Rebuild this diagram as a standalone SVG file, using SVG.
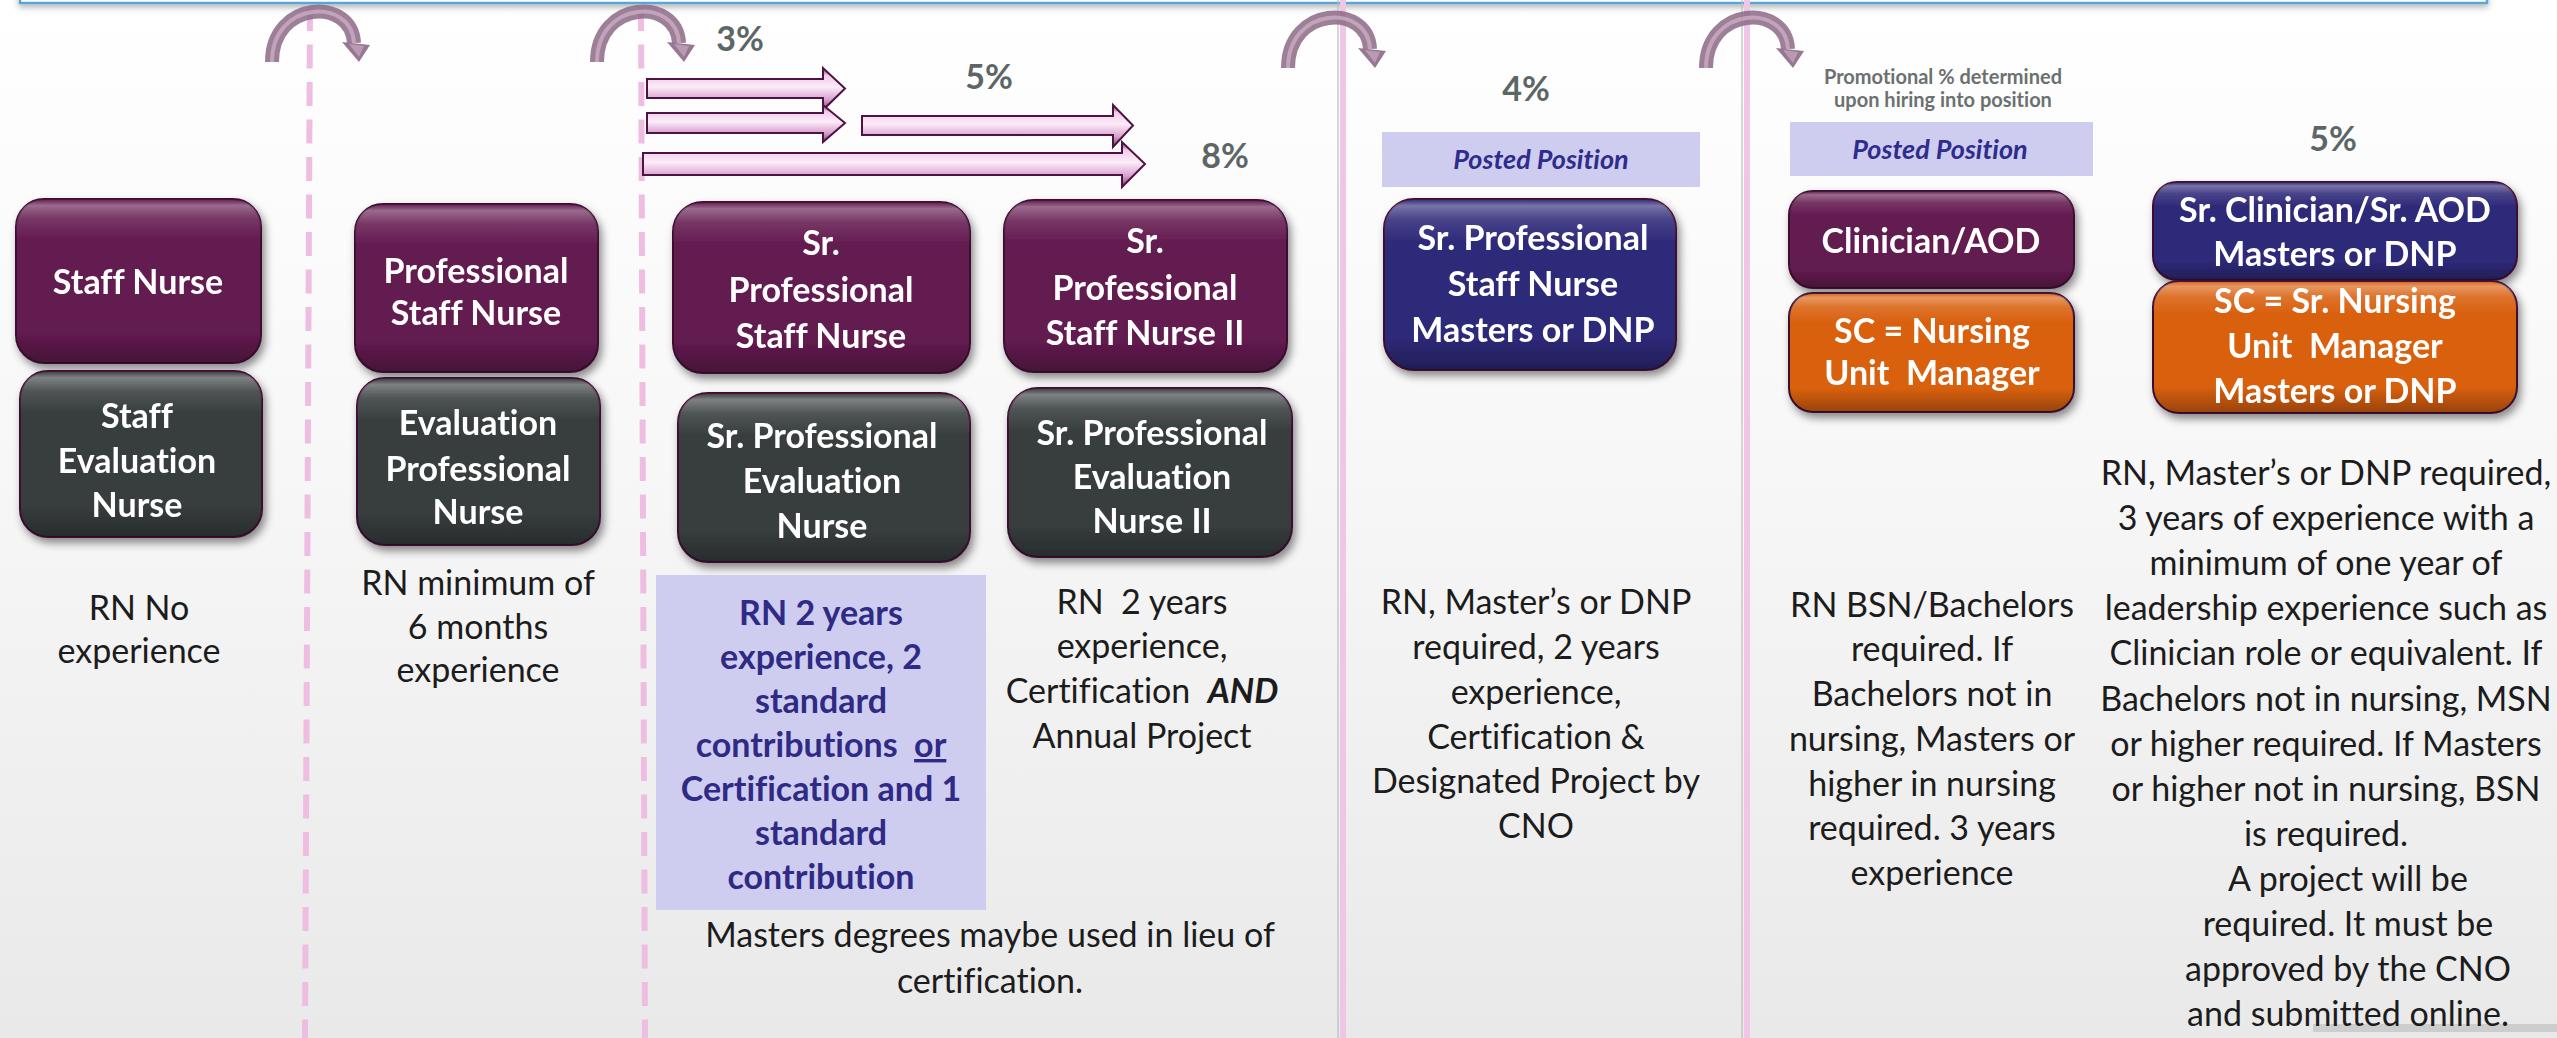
<svg xmlns="http://www.w3.org/2000/svg" width="2557" height="1038" viewBox="0 0 2557 1038">
<defs>
  <linearGradient id="bg" x1="0" y1="0" x2="0" y2="1">
    <stop offset="0" stop-color="#ffffff"/>
    <stop offset="0.45" stop-color="#f7f7f7"/>
    <stop offset="1" stop-color="#e9e9e9"/>
  </linearGradient>
  <linearGradient id="gloss" x1="0" y1="0" x2="0" y2="1">
    <stop offset="0" stop-color="#ffffff" stop-opacity="0.0"/>
    <stop offset="0.04" stop-color="#ffffff" stop-opacity="0.35"/>
    <stop offset="0.12" stop-color="#ffffff" stop-opacity="0.12"/>
    <stop offset="0.25" stop-color="#ffffff" stop-opacity="0"/>
    <stop offset="0.8" stop-color="#000000" stop-opacity="0"/>
    <stop offset="1" stop-color="#000000" stop-opacity="0.3"/>
  </linearGradient>
  <linearGradient id="arr" x1="0" y1="0" x2="0" y2="1">
    <stop offset="0" stop-color="#7c3a70"/>
    <stop offset="0.18" stop-color="#f1cbe9"/>
    <stop offset="0.45" stop-color="#fcecf9"/>
    <stop offset="0.75" stop-color="#d9a2cf"/>
    <stop offset="1" stop-color="#7e3d73"/>
  </linearGradient>
  <filter id="ds" x="-10%" y="-10%" width="125%" height="135%">
    <feDropShadow dx="3" dy="5" stdDeviation="4" flood-color="#000" flood-opacity="0.45"/>
  </filter>
  <filter id="ds2" x="-5%" y="-50%" width="110%" height="300%">
    <feDropShadow dx="0" dy="3" stdDeviation="3" flood-color="#000" flood-opacity="0.3"/>
  </filter>
  <g id="uarc">
    <path d="M 0 57 C 0 -5, 80 -8, 82 38" fill="none" stroke="#8d6886" stroke-width="14" stroke-opacity="0.85"/>
    <path d="M 0 57 C 0 -5, 80 -8, 82 38" fill="none" stroke="#c9adc3" stroke-width="4" stroke-opacity="0.8"/>
    <polygon points="70,37 98,40 87,57" fill="#8d6886" fill-opacity="0.9"/>
    <polygon points="77,39 92,41 87,52" fill="#c2a3bc" fill-opacity="0.8"/>
  </g>
  <style>
    text { font-variant-ligatures: none; }
    .bx { stroke: #3f0d33; stroke-width: 2; }
    .pu { fill: #641b50; }
    .dk { fill: #383e3e; }
    .nv { fill: #2f2a7a; }
    .or { fill: #d9600f; }
    .gl { fill: url(#gloss); }
    .bt { font-family: Lato, "Open Sans", "Liberation Sans", sans-serif; font-weight: bold; font-size: 34px; fill: #ffffff; text-anchor: middle; }
    .tx { font-family: Lato, "Open Sans", "Liberation Sans", sans-serif; font-size: 34px; fill: #1c1c1c; text-anchor: middle; white-space: pre; }
    .lv { font-family: Lato, "Open Sans", "Liberation Sans", sans-serif; font-weight: bold; font-size: 34px; fill: #2e2a86; text-anchor: middle; white-space: pre; }
    .pc { font-family: Lato, "Open Sans", "Liberation Sans", sans-serif; font-weight: bold; font-size: 34px; fill: #5c6666; text-anchor: middle; }
    .pm { font-family: Lato, "Open Sans", "Liberation Sans", sans-serif; font-weight: bold; font-size: 20px; fill: #6b7070; text-anchor: middle; }
    .pp { font-family: Lato, "Open Sans", "Liberation Sans", sans-serif; font-weight: bold; font-style: italic; font-size: 27px; fill: #2e2c8c; text-anchor: middle; }
    .dash { stroke: #efbde2; stroke-width: 6; stroke-dasharray: 24 13.5; fill: none; }
    .sol { stroke: #f0c6e6; stroke-width: 6; fill: none; }
    .solsh { stroke: #bcbcbc; stroke-width: 2; fill: none; opacity: 0.6; }
    .ar { fill: url(#arr); stroke: #4d1443; stroke-width: 2; stroke-linejoin: miter; }
  </style>
</defs>

<rect x="0" y="0" width="2557" height="1038" fill="url(#bg)"/>

<!-- top banner edge -->
<rect x="20" y="-30" width="2467" height="33" fill="#ffffff" stroke="#5aa5d8" stroke-width="2.5" filter="url(#ds2)"/>

<!-- bottom-right shadow -->
<rect x="2313" y="1024" width="244" height="8" fill="#9a9a9a" opacity="0.35"/>

<!-- dividers -->
<g id="dividers">
  <line class="dash" x1="310" y1="7" x2="305" y2="1038"/>
  <line class="dash" x1="641" y1="7" x2="645" y2="1038"/>
  <line class="solsh" x1="1338" y1="0" x2="1338" y2="1038"/>
  <line class="sol" x1="1343" y1="0" x2="1343" y2="1038"/>
  <line class="solsh" x1="1742" y1="0" x2="1742" y2="1038"/>
  <line class="sol" x1="1747" y1="0" x2="1747" y2="1038"/>
</g>

<!-- connectors -->
<g id="connectors">
  <use href="#uarc" transform="translate(272,5)"/>
  <use href="#uarc" transform="translate(597,5)"/>
  <use href="#uarc" transform="translate(1288,11)"/>
  <use href="#uarc" transform="translate(1706,11)"/>
  <path class="ar" d="M 647 79 L 823 79 L 823 68 L 845 88.5 L 823 110 L 823 98 L 647 98 Z"/>
  <path class="ar" d="M 647 113 L 823 113 L 823 105 L 845 123 L 823 142 L 823 133 L 647 133 Z"/>
  <path class="ar" d="M 862 116 L 1113 116 L 1113 105 L 1133 125.5 L 1113 147 L 1113 135 L 862 135 Z"/>
  <path class="ar" d="M 643 153 L 1122 153 L 1122 142 L 1145 164 L 1122 187 L 1122 175 L 643 175 Z"/>
</g>

<!-- percentage labels -->
<g id="labels">
  <text class="pc" x="740" y="51">3%</text>
  <text class="pc" x="989" y="89">5%</text>
  <text class="pc" x="1225" y="168">8%</text>
  <text class="pc" x="1526" y="101">4%</text>
  <text class="pc" x="2333" y="151">5%</text>
  <text class="pm" x="1943" y="84">Promotional % determined</text>
  <text class="pm" x="1943" y="107">upon hiring into position</text>
</g>

<!-- posted position tags -->
<g id="posted1">
  <rect x="1382" y="132" width="318" height="55" fill="#cfcdef"/>
  <text class="pp" x="1541" y="169">Posted Position</text>
</g>
<g id="posted2">
  <rect x="1790" y="122" width="303" height="54" fill="#cfcdef"/>
  <text class="pp" x="1940" y="159">Posted Position</text>
</g>

<!-- nodes -->
<g id="staff-nurse" filter="url(#ds)">
  <rect class="bx pu" x="16" y="199" width="245" height="164" rx="28"/>
  <rect class="gl" x="16" y="199" width="245" height="164" rx="28"/>
  <text class="bt" x="138" y="294">Staff Nurse</text>
</g>
<g id="staff-eval-nurse" filter="url(#ds)">
  <rect class="bx dk" x="20" y="371" width="242" height="166" rx="28"/>
  <rect class="gl" x="20" y="371" width="242" height="166" rx="28"/>
  <text class="bt" x="137"><tspan x="137" y="428">Staff</tspan><tspan x="137" y="473">Evaluation</tspan><tspan x="137" y="517">Nurse</tspan></text>
</g>

<g id="prof-staff-nurse" filter="url(#ds)">
  <rect class="bx pu" x="355" y="204" width="243" height="168" rx="28"/>
  <rect class="gl" x="355" y="204" width="243" height="168" rx="28"/>
  <text class="bt"><tspan x="476" y="283">Professional</tspan><tspan x="476" y="325">Staff Nurse</tspan></text>
</g>
<g id="eval-prof-nurse" filter="url(#ds)">
  <rect class="bx dk" x="357" y="378" width="243" height="167" rx="28"/>
  <rect class="gl" x="357" y="378" width="243" height="167" rx="28"/>
  <text class="bt"><tspan x="478" y="435">Evaluation</tspan><tspan x="478" y="481">Professional</tspan><tspan x="478" y="524">Nurse</tspan></text>
</g>

<g id="sr-prof-staff-nurse" filter="url(#ds)">
  <rect class="bx pu" x="673" y="202" width="297" height="171" rx="30"/>
  <rect class="gl" x="673" y="202" width="297" height="171" rx="30"/>
  <text class="bt"><tspan x="821" y="255">Sr.</tspan><tspan x="821" y="302">Professional</tspan><tspan x="821" y="348">Staff Nurse</tspan></text>
</g>
<g id="sr-prof-eval-nurse" filter="url(#ds)">
  <rect class="bx dk" x="678" y="393" width="292" height="169" rx="30"/>
  <rect class="gl" x="678" y="393" width="292" height="169" rx="30"/>
  <text class="bt"><tspan x="822" y="448">Sr. Professional</tspan><tspan x="822" y="493">Evaluation</tspan><tspan x="822" y="538">Nurse</tspan></text>
</g>

<g id="sr-prof-staff-nurse-2" filter="url(#ds)">
  <rect class="bx pu" x="1004" y="200" width="283" height="172" rx="30"/>
  <rect class="gl" x="1004" y="200" width="283" height="172" rx="30"/>
  <text class="bt"><tspan x="1145" y="253">Sr.</tspan><tspan x="1145" y="300">Professional</tspan><tspan x="1145" y="345">Staff Nurse II</tspan></text>
</g>
<g id="sr-prof-eval-nurse-2" filter="url(#ds)">
  <rect class="bx dk" x="1008" y="388" width="284" height="169" rx="30"/>
  <rect class="gl" x="1008" y="388" width="284" height="169" rx="30"/>
  <text class="bt"><tspan x="1152" y="445">Sr. Professional</tspan><tspan x="1152" y="489">Evaluation</tspan><tspan x="1152" y="533">Nurse II</tspan></text>
</g>

<g id="sr-prof-masters" filter="url(#ds)">
  <rect class="bx nv" x="1384" y="199" width="292" height="171" rx="30"/>
  <rect class="gl" x="1384" y="199" width="292" height="171" rx="30"/>
  <text class="bt"><tspan x="1533" y="250">Sr. Professional</tspan><tspan x="1533" y="296">Staff Nurse</tspan><tspan x="1533" y="342">Masters or DNP</tspan></text>
</g>

<g id="clinician-aod" filter="url(#ds)">
  <rect class="bx pu" x="1789" y="191" width="285" height="97" rx="24"/>
  <rect class="gl" x="1789" y="191" width="285" height="97" rx="24"/>
  <text class="bt" x="1931" y="253">Clinician/AOD</text>
</g>
<g id="nursing-unit-manager" filter="url(#ds)">
  <rect class="bx or" x="1789" y="293" width="285" height="119" rx="24"/>
  <rect class="gl" x="1789" y="293" width="285" height="119" rx="24"/>
  <text class="bt" style="white-space:pre"><tspan x="1932" y="343">SC = Nursing</tspan><tspan x="1932" y="385">Unit  Manager</tspan></text>
</g>

<g id="sr-clinician-aod" filter="url(#ds)">
  <rect class="bx nv" x="2153" y="182" width="364" height="98" rx="24"/>
  <rect class="gl" x="2153" y="182" width="364" height="98" rx="24"/>
  <text class="bt"><tspan x="2335" y="222">Sr. Clinician/Sr. AOD</tspan><tspan x="2335" y="266">Masters or DNP</tspan></text>
</g>
<g id="sr-nursing-unit-manager" filter="url(#ds)">
  <rect class="bx or" x="2153" y="281" width="364" height="132" rx="26"/>
  <rect class="gl" x="2153" y="281" width="364" height="132" rx="26"/>
  <text class="bt" style="white-space:pre"><tspan x="2335" y="313">SC = Sr. Nursing</tspan><tspan x="2335" y="358">Unit  Manager</tspan><tspan x="2335" y="403">Masters or DNP</tspan></text>
</g>

<!-- requirement texts -->
<g id="req-staff">
  <text class="tx"><tspan x="139" y="620">RN No</tspan><tspan x="139" y="663">experience</tspan></text>
</g>
<g id="req-prof">
  <text class="tx"><tspan x="478" y="595">RN minimum of</tspan><tspan x="478" y="639">6 months</tspan><tspan x="478" y="682">experience</tspan></text>
</g>
<g id="req-sr-prof">
  <rect x="656" y="575" width="330" height="335" fill="#cfcdef"/>
  <text class="lv"><tspan x="821" y="625">RN 2 years</tspan><tspan x="821" y="669">experience, 2</tspan><tspan x="821" y="713">standard</tspan><tspan x="821" y="757">contributions  <tspan text-decoration="underline">or</tspan></tspan><tspan x="821" y="801">Certification and 1</tspan><tspan x="821" y="845">standard</tspan><tspan x="821" y="889">contribution</tspan></text>
</g>
<g id="req-sr-prof-2">
  <text class="tx"><tspan x="1142" y="614">RN  2 years</tspan><tspan x="1142" y="658">experience,</tspan><tspan x="1142" y="703">Certification  <tspan font-weight="bold" font-style="italic">AND</tspan></tspan><tspan x="1142" y="748">Annual Project</tspan></text>
</g>
<g id="note-masters">
  <text class="tx"><tspan x="990" y="947">Masters degrees maybe used in lieu of</tspan><tspan x="990" y="993">certification.</tspan></text>
</g>
<g id="req-sr-prof-masters">
  <text class="tx"><tspan x="1536" y="614">RN, Master’s or DNP</tspan><tspan x="1536" y="659">required, 2 years</tspan><tspan x="1536" y="704">experience,</tspan><tspan x="1536" y="749">Certification &amp;</tspan><tspan x="1536" y="793">Designated Project by</tspan><tspan x="1536" y="838">CNO</tspan></text>
</g>
<g id="req-clinician">
  <text class="tx"><tspan x="1932" y="617">RN BSN/Bachelors</tspan><tspan x="1932" y="661">required. If</tspan><tspan x="1932" y="706">Bachelors not in</tspan><tspan x="1932" y="751">nursing, Masters or</tspan><tspan x="1932" y="796">higher in nursing</tspan><tspan x="1932" y="840">required. 3 years</tspan><tspan x="1932" y="885">experience</tspan></text>
</g>
<g id="req-sr-clinician">
  <text class="tx"><tspan x="2326" y="485">RN, Master’s or DNP required,</tspan><tspan x="2326" y="530">3 years of experience with a</tspan><tspan x="2326" y="575">minimum of one year of</tspan><tspan x="2326" y="620">leadership experience such as</tspan><tspan x="2326" y="665">Clinician role or equivalent. If</tspan><tspan x="2326" y="711">Bachelors not in nursing, MSN</tspan><tspan x="2326" y="756">or higher required. If Masters</tspan><tspan x="2326" y="801">or higher not in nursing, BSN</tspan><tspan x="2326" y="846">is required.</tspan><tspan x="2348" y="891">A project will be</tspan><tspan x="2348" y="936">required. It must be</tspan><tspan x="2348" y="981">approved by the CNO</tspan><tspan x="2348" y="1026">and submitted online.</tspan></text>
</g>
</svg>
